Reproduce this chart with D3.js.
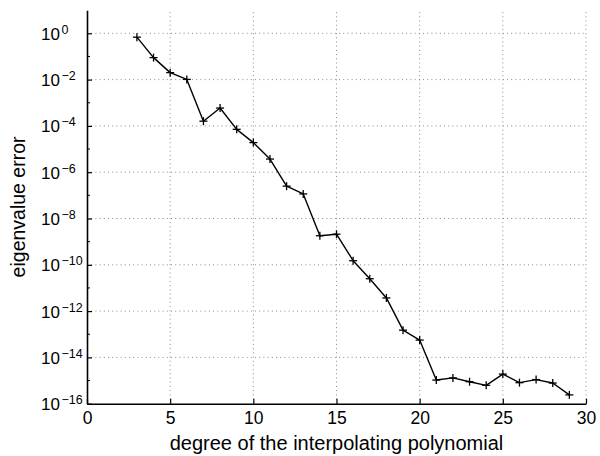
<!DOCTYPE html>
<html>
<head>
<meta charset="utf-8">
<script src="https://cdn.jsdelivr.net/npm/d3@7"></script>
<style>
  html, body { margin: 0; padding: 0; background: #fff; }
  svg { display: block; font-family: "Liberation Sans", Arial, Helvetica, sans-serif; }
</style>
</head>
<body>
<svg id="chart" width="600" height="456"></svg>
<script>
// ---- data ----
const degrees = [3,4,5,6,7,8,9,10,11,12,13,14,15,16,17,18,19,20,21,22,23,24,25,26,27,28,29];
const errors = [0.68, 0.089, 0.020, 0.0102, 1.6e-4, 5.9e-4, 7.1e-5, 1.9e-5, 3.7e-6, 2.5e-7, 1.15e-7,
                1.8e-9, 2.1e-9, 1.5e-10, 2.5e-11, 3.7e-12, 1.5e-13, 5.6e-14,
                1.05e-15, 1.3e-15, 8.9e-16, 6.2e-16, 1.9e-15, 8.1e-16, 1.1e-15, 7.8e-16, 2.4e-16];
const xTicks = [0, 5, 10, 15, 20, 25, 30];
const yTickExps = [0, -2, -4, -6, -8, -10, -12, -14, -16];
const xLabel = "degree of the interpolating polynomial";
const yLabel = "eigenvalue error";

// ---- layout ----
const pL = 87, pR = 586, pT = 10.15, pB = 403.7;
const svg = d3.select("#chart");

const x = d3.scaleLinear().domain([0, 30]).range([pL, pR]);
const y = d3.scaleLog().domain([1e-16, 1e1]).range([pB, pT]);

// grid
const grid = svg.append("g").attr("stroke", "#8a8a8a").attr("stroke-width", 1)
  .attr("stroke-dasharray", "1,3.2").attr("fill", "none");
xTicks.filter(t => t > 0).forEach(t => {
  grid.append("line").attr("x1", x(t)).attr("x2", x(t)).attr("y1", pB).attr("y2", pT);
});
yTickExps.filter(e => e > -16).forEach(e => {
  grid.append("line").attr("x1", pL).attr("x2", pR).attr("y1", y(Math.pow(10, e))).attr("y2", y(Math.pow(10, e)));
});

// axes
const xAxis = d3.axisBottom(x).tickValues(xTicks).tickSizeInner(-5).tickSizeOuter(0).tickFormat(d3.format("d")).tickPadding(8);
const gx = svg.append("g").attr("transform", `translate(0,${pB})`).call(xAxis);
gx.select(".domain").attr("stroke", "#000").attr("stroke-width", 1.6);
gx.selectAll(".tick line").attr("stroke", "#000").attr("stroke-width", 1.2);
gx.selectAll(".tick text").attr("font-size", 17.5).attr("fill", "#000")
  .attr("font-family", "'Liberation Sans', Arial, sans-serif").attr("dy", "0.71em");

const yAxis = d3.axisLeft(y).tickValues(yTickExps.map(e => Math.pow(10, e))).tickSizeInner(-5).tickSizeOuter(0).tickFormat("");
const gy = svg.append("g").attr("transform", `translate(${pL},0)`).call(yAxis);
gy.select(".domain").attr("stroke", "#000").attr("stroke-width", 1.6);
gy.selectAll(".tick line").attr("stroke", "#000").attr("stroke-width", 1.2);

// minor y ticks at odd decades
const minor = d3.range(-15, 1, 2).map(e => Math.pow(10, e));
svg.append("g").selectAll("line").data(minor).join("line")
  .attr("x1", pL).attr("x2", pL + 3).attr("y1", d => y(d)).attr("y2", d => y(d))
  .attr("stroke", "#000").attr("stroke-width", 1);

// y tick labels with superscripts
const ylab = svg.append("g").attr("font-size", 17).attr("fill", "#000");
yTickExps.forEach(e => {
  const t = ylab.append("text").attr("x", 41).attr("y", y(Math.pow(10, e)) + 6.5);
  t.append("tspan").text("10");
  t.append("tspan").attr("font-size", 12.5).attr("dy", -6).attr("dx", 1.5).text(e === 0 ? "0" : "\u2212" + Math.abs(e));
});

// line
const line = d3.line().x((d, i) => x(degrees[i])).y(d => y(d));
svg.append("path").datum(errors).attr("d", line)
  .attr("fill", "none").attr("stroke", "#000").attr("stroke-width", 1.4).attr("stroke-linejoin", "round");

// + markers
const m = 4;
const mk = svg.append("g").attr("stroke", "#000").attr("stroke-width", 1.3);
errors.forEach((v, i) => {
  const cx = x(degrees[i]), cy = y(v);
  mk.append("line").attr("x1", cx - m).attr("x2", cx + m).attr("y1", cy).attr("y2", cy);
  mk.append("line").attr("x1", cx).attr("x2", cx).attr("y1", cy - m).attr("y2", cy + m);
});

// axis titles
svg.append("text").attr("x", (pL + pR) / 2).attr("y", 450).attr("text-anchor", "middle")
  .attr("font-size", 20).attr("fill", "#000").text(xLabel);
svg.append("text").attr("transform", `translate(25,${(pT + pB) / 2}) rotate(-90)`)
  .attr("text-anchor", "middle").attr("font-size", 19.5).attr("fill", "#000").text(yLabel);
</script>
</body>
</html>
